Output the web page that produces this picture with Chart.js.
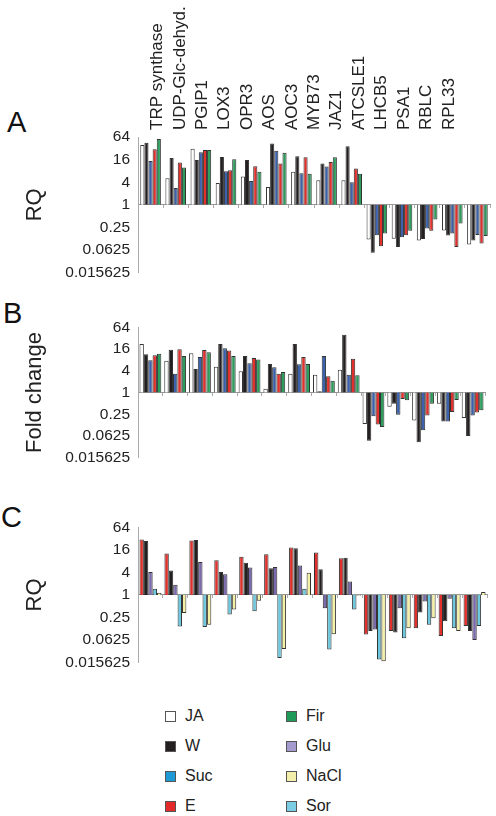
<!DOCTYPE html>
<html>
<head>
<meta charset="utf-8">
<script src="https://cdn.jsdelivr.net/npm/chart.js@4.4.1/dist/chart.umd.min.js"></script>
<style>
  body { margin: 0; background: #fff; font-family: "Liberation Sans", Arial, sans-serif; }
  #page { position: relative; width: 496px; height: 816px; overflow: hidden; }
  canvas { position: absolute; left: 0; }
  .letter { position: absolute; font-size: 29px; line-height: 29px; color: #111; }
  .key { position: absolute; font-size: 16px; line-height: 16px; color: #222; }
  .key span { position: absolute; top: 3px; width: 9px; height: 9px; border: 1px solid #555; }
</style>
</head>
<body>
<div id="page">
  <div class="letter" style="left:7px;top:108px">A</div>
  <div class="letter" style="left:3px;top:299px">B</div>
  <div class="letter" style="left:1px;top:503px">C</div>
  <canvas id="chartA" width="496" height="290" style="top:0px"></canvas>
  <canvas id="chartB" width="496" height="165" style="top:310px"></canvas>
  <canvas id="chartC" width="496" height="170" style="top:510px"></canvas>
</div>
<script>
'use strict';

// gene names (categories)
const genes = ['TRP synthase', 'UDP-Glc-dehyd.', 'PGIP1', 'LOX3', 'OPR3', 'AOS', 'AOC3',
  'MYB73', 'JAZ1', 'ATCSLE1', 'LHCB5', 'PSA1', 'RBLC', 'RPL33'];

// y axis tick labels (log2 scale)
const yTicks = [64, 16, 4, 1, 0.25, 0.0625, 0.015625];

// Panel A - RQ
const aJA  = [39, 5.1, 31, 3.8, 5.7, 3.0, 7.6, 4.5, 4.5, 0.119, 0.126, 0.112, 0.209, 0.088];
const aW   = [45, 17.7, 15.7, 18.8, 15.7, 43, 19.6, 12.6, 36.5, 0.053, 0.076, 0.124, 0.152, 0.112];
const aSuc = [14.8, 2.8, 25, 7.9, 4.3, 27.5, 6.9, 10.5, 4.0, 0.154, 0.137, 0.235, 0.174, 0.157];
const aE   = [30, 13.4, 28.7, 8.4, 10.7, 12.6, 18.4, 13.9, 9.3, 0.079, 0.154, 0.204, 0.075, 0.093];
const aFir = [57, 9.9, 28.7, 16.3, 7.6, 24.4, 6.7, 18.4, 6.7, 0.174, 0.204, 0.406, 0.318, 0.148];

// Panel B - fold change
const bJA  = [22, 7.6, 12.3, 5.2, 3.9, 1.27, 3.3, 3.1, 4.3, 0.134, 0.4, 0.167, 0.49, 0.196];
const bW   = [11.4, 15.4, 4.5, 22, 10.3, 6.2, 22, 1.08, 40, 0.046, 0.49, 0.042, 0.157, 0.0625];
const bSuc = [7.8, 3.3, 9.7, 16.7, 6.5, 5.0, 6.1, 10.3, 3.1, 0.22, 0.24, 0.09, 0.157, 0.23];
const bE   = [10.7, 15.7, 15, 14.5, 9.1, 3.3, 9.7, 2.8, 8.6, 0.13, 0.66, 0.23, 0.29, 0.28];
const bFir = [11.8, 10.3, 13.1, 10.3, 8.2, 3.7, 6.2, 2.1, 3.0, 0.11, 0.61, 0.49, 0.62, 0.32];

// Panel C - RQ
const cE    = [30.4, 12.8, 28.6, 8.4, 10.5, 12.3, 18.4, 13.6, 9.5, 0.088, 0.11, 0.13, 0.08, 0.15];
const cW    = [27.5, 4.5, 29.2, 4.1, 7.3, 5.2, 17.7, 4.9, 9.9, 0.11, 0.1, 0.34, 0.2, 0.11];
const cGlu  = [4.1, 1.87, 7.6, 3.6, 5.4, 5.6, 6.1, 0.44, 2.28, 0.12, 0.44, 0.67, 0.8, 0.063];
const cSor  = [1.46, 0.145, 0.14, 0.30, 0.37, 0.021, 1.46, 0.035, 0.41, 0.019, 0.07, 0.16, 0.13, 0.15];
const cNaCl = [1.15, 0.33, 0.16, 0.41, 0.70, 0.036, 3.9, 0.09, 0.95, 0.017, 0.13, 0.24, 0.11, 1.2];

// legend order (two columns)
const legendNames = ['JA', 'W', 'Suc', 'E', 'Fir', 'Glu', 'NaCl', 'Sor'];

// colours
const barColors = {
  JA: '#ffffff', W: '#231f20', Suc: '#3c62ad', E: '#e2312d',
  Fir: '#2c9d5c', Glu: '#7a69ad', NaCl: '#f4f1a6', Sor: '#6cc8de'
};
const keyColors = {
  JA: '#ffffff', W: '#231f20', Suc: '#1d9ad6', E: '#e4292a',
  Fir: '#1f9a58', Glu: '#a69bcf', NaCl: '#f3efaa', Sor: '#7acde2'
};

// gene names on top sit a little closer together than the bar groups
const nameStart = -0.06;
const nameStep = 0.96;

function makeDatasets(names, lists, catPct) {
  return names.map((name, i) => ({
    label: name,
    xAxisID: 'x',
    data: lists[i].map(v => Math.log2(v)),
    backgroundColor: barColors[name],
    borderColor: '#333',
    borderWidth: 1,
    borderSkipped: 'start',
    barPercentage: 1,
    categoryPercentage: catPct
  }));
}

function makePanel(id, datasets, pad, yTitle, titlePad, showGenes) {
  const scales = {
    x: {
      position: { y: 0 },
      offset: true,
      grid: { display: true, drawOnChartArea: false, drawTicks: true, tickLength: 3, color: '#aaa', offset: true },
      border: { display: true, color: '#999' },
      ticks: { display: false }
    },
    y: {
      min: -6,
      max: 6,
      afterBuildTicks: (scale) => {
        scale.ticks = yTicks.map(t => ({ value: Math.log2(t) })).sort((a, b) => a.value - b.value);
      },
      afterFit: (scale) => { scale.width = 138; },
      grid: { display: false, drawTicks: false },
      border: { display: true, color: '#aaa' },
      ticks: {
        padding: 8,
        color: '#222',
        font: { family: 'Liberation Sans', size: 15.5 },
        callback: (v) => String(yTicks.find(t => Math.abs(Math.log2(t) - v) < 1e-9))
      },
      title: {
        display: true,
        text: yTitle,
        color: '#222',
        font: { family: 'Liberation Sans', size: 22 },
        padding: { top: titlePad, bottom: 0 }
      }
    }
  };
  if (showGenes) {
    scales.x2 = {
      type: 'linear',
      position: 'top',
      min: -0.5,
      max: genes.length - 0.5,
      grid: { display: false, drawTicks: false },
      border: { display: false },
      afterBuildTicks: (scale) => {
        scale.ticks = genes.map((g, i) => ({ value: nameStart + nameStep * i }));
      },
      afterFit: (scale) => { scale.height = 137 - pad.top; },
      ticks: {
        autoSkip: false,
        minRotation: 90,
        maxRotation: 90,
        padding: 7,
        labelOffset: 17,
        color: '#222',
        font: { family: 'Liberation Sans', size: 17 },
        callback: (v, i) => genes[i]
      }
    };
  }
  return new Chart(document.getElementById(id), {
    type: 'bar',
    data: { labels: genes, datasets: datasets },
    options: {
      responsive: false,
      animation: false,
      layout: { padding: pad },
      plugins: { legend: { display: false }, tooltip: { enabled: false } },
      scales: scales
    }
  });
}

Chart.defaults.font.family = 'Liberation Sans';

makePanel('chartA',
  makeDatasets(['JA', 'W', 'Suc', 'E', 'Fir'], [aJA, aW, aSuc, aE, aFir], 0.82),
  { top: 0, right: 6, bottom: 15, left: 0 }, 'RQ', 22, true);

makePanel('chartB',
  makeDatasets(['JA', 'W', 'Suc', 'E', 'Fir'], [bJA, bW, bSuc, bE, bFir], 0.88),
  { top: 15, right: 11, bottom: 12, left: 0 }, 'Fold change', 22, false);

makePanel('chartC',
  makeDatasets(['E', 'W', 'Glu', 'Sor', 'NaCl'], [cE, cW, cGlu, cSor, cNaCl], 0.88),
  { top: 17, right: 9, bottom: 15, left: 0 }, 'RQ', 22, false);

// legend, two columns of four
const page = document.getElementById('page');
legendNames.forEach((name, i) => {
  const col = Math.floor(i / 4);
  const row = i % 4;
  const el = document.createElement('div');
  el.className = 'key';
  el.style.left = (165 + col * 121) + 'px';
  el.style.top = (708 + row * 30) + 'px';
  el.style.paddingLeft = '20px';
  const sw = document.createElement('span');
  sw.style.left = '0px';
  sw.style.background = keyColors[name];
  el.appendChild(sw);
  el.appendChild(document.createTextNode(name));
  page.appendChild(el);
});
</script>
</body>
</html>
